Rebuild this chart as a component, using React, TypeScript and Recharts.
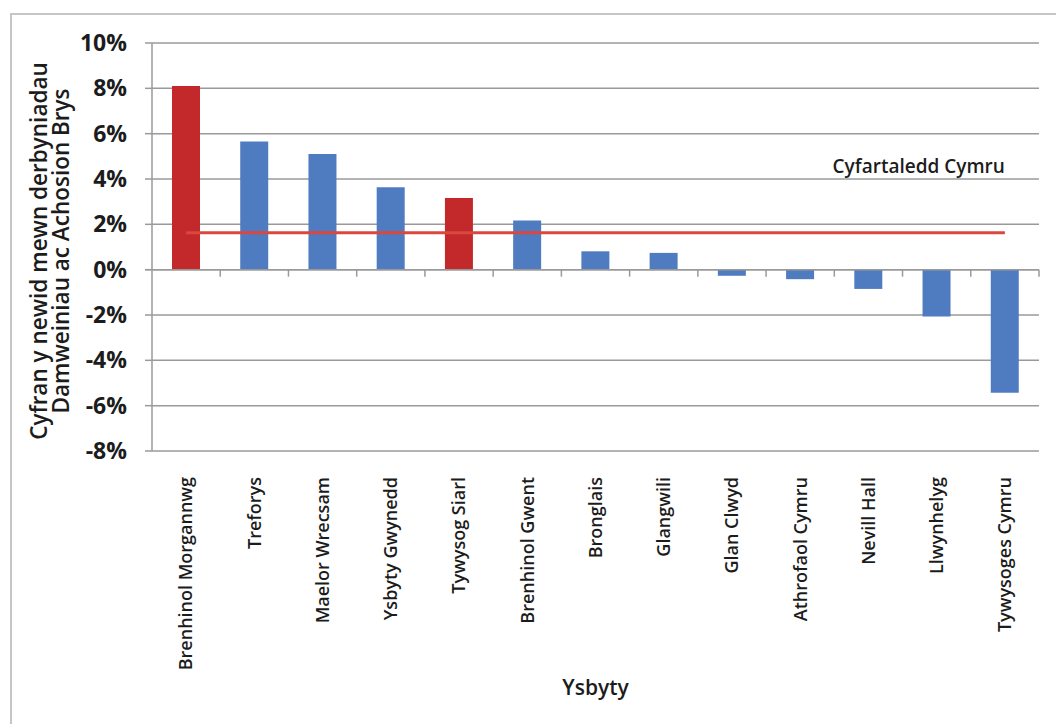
import React from 'react';
import { ComposedChart, Bar, Line, Cell, XAxis, YAxis, CartesianGrid, ReferenceLine, LabelList } from 'recharts';

// Hospitals, in the order shown on the chart
const HOSPITALS = [
  'Brenhinol Morgannwg',
  'Treforys',
  'Maelor Wrecsam',
  'Ysbyty Gwynedd',
  'Tywysog Siarl',
  'Brenhinol Gwent',
  'Bronglais',
  'Glangwili',
  'Glan Clwyd',
  'Athrofaol Cymru',
  'Nevill Hall',
  'Llwynhelyg',
  'Tywysoges Cymru'
];

// % change in emergency department admissions
const CHANGES = [8.1, 5.65, 5.1, 3.64, 3.16, 2.17, 0.81, 0.74, -0.27, -0.42, -0.85, -2.07, -5.43];

// bars drawn in red
const HIGHLIGHTED = ['Brenhinol Morgannwg', 'Tywysog Siarl'];

// Wales average
const WALES_AVERAGE = 1.63;
const AVERAGE_LABEL = 'Cyfartaledd Cymru';

const Y_TICKS = [-8, -6, -4, -2, 0, 2, 4, 6, 8, 10];
const Y_TITLE = ['Cyfran y newid mewn derbyniadau', 'Damweiniau ac Achosion Brys'];
const X_TITLE = 'Ysbyty';

const FONT = '"Open Sans", sans-serif';
const TEXT = '#1c1c1c';
const BLUE = '#4f7cc0';
const RED = '#c3282a';
const LINE_RED = '#d9473f';
const GREY = '#9a9a9a';

const data = HOSPITALS.map((name, i) => ({ name, change: CHANGES[i], avg: WALES_AVERAGE }));

const HospitalTick = (props: any) => {
  const { x, y, payload } = props;
  return (
    <text
      transform={`translate(${x},${y + 18}) rotate(-90)`}
      textAnchor="end"
      dy="0.35em"
      fontFamily={FONT}
      fontSize={18}
      fontWeight={600}
      fill={TEXT}
    >
      {payload.value}
    </text>
  );
};

const renderYTitle = (props: any) => {
  const vb = props.viewBox;
  const cy = vb.y + vb.height / 2 + 4;
  return (
    <g>
      {Y_TITLE.map((line, i) => (
        <text
          key={line}
          transform={`translate(${vb.x + 19 + i * 22},${cy}) rotate(-90)`}
          textAnchor="middle"
          dy="0.35em"
          fontFamily={FONT}
          fontSize={22.5}
          fontWeight={600}
          fill={TEXT}
        >
          {line}
        </text>
      ))}
    </g>
  );
};

// zero line with the category tick marks
const ZeroAxis = (props: any) => {
  const { x1, y1, x2, y2 } = props;
  const n = HOSPITALS.length;
  const step = (x2 - x1) / n;
  return (
    <g>
      <line x1={x1 - 7} y1={y1} x2={x2} y2={y2} stroke={GREY} strokeWidth={1.5} />
      {HOSPITALS.map((h, i) => (
        <line key={h} x1={x1 + (i + 1) * step} y1={y1} x2={x1 + (i + 1) * step} y2={y1 + 7} stroke={GREY} strokeWidth={1.5} />
      ))}
    </g>
  );
};

const AverageLabel = (props: any) => {
  const { x, y, index } = props;
  if (index !== HOSPITALS.length - 1) return null;
  return (
    <text x={x} y={y - 60} textAnchor="end" fontFamily={FONT} fontSize={19} fontWeight={600} fill={TEXT}>
      {AVERAGE_LABEL}
    </text>
  );
};

export default function App() {
  return (
    <div style={{ position: 'absolute', left: 0, top: 0, width: 1056, height: 724, background: '#fff' }}>
      <div
        style={{
          position: 'absolute',
          left: 10,
          top: 13,
          right: 0,
          bottom: 0,
          borderTop: '2px solid #c6c6c6',
          borderLeft: '2px solid #c6c6c6'
        }}
      />
      <ComposedChart
        width={1056}
        height={724}
        data={data}
        margin={{ top: 43, right: 17, bottom: 33, left: 20 }}
        style={{ position: 'absolute', left: 0, top: 0 }}
      >
        <CartesianGrid vertical={false} stroke={GREY} strokeWidth={1.5} />
        <XAxis
          dataKey="name"
          interval={0}
          height={240}
          axisLine={false}
          tickLine={false}
          tick={<HospitalTick />}
          label={{
            value: X_TITLE,
            position: 'insideBottom',
            offset: -4,
            fontFamily: FONT,
            fontSize: 21,
            fontWeight: 600,
            fill: TEXT
          }}
        />
        <YAxis
          type="number"
          width={132}
          domain={[-8, 10]}
          ticks={Y_TICKS}
          interval={0}
          tickFormatter={(v: number) => `${v}%`}
          axisLine={{ stroke: GREY, strokeWidth: 1.5 }}
          tickLine={{ stroke: GREY, strokeWidth: 1.5 }}
          tickSize={7}
          tickMargin={18}
          tick={{ fontFamily: FONT, fontSize: 23, fontWeight: 700, fill: TEXT }}
          label={renderYTitle}
        />
        <Bar dataKey="change" barSize={28} isAnimationActive={false}>
          {data.map((d) => (
            <Cell key={d.name} fill={HIGHLIGHTED.includes(d.name) ? RED : BLUE} />
          ))}
        </Bar>
        <ReferenceLine y={0} shape={ZeroAxis} />
        <Line
          dataKey="avg"
          stroke={LINE_RED}
          strokeWidth={3}
          dot={false}
          activeDot={false}
          isAnimationActive={false}
        >
          <LabelList dataKey="avg" content={AverageLabel} />
        </Line>
      </ComposedChart>
    </div>
  );
}
